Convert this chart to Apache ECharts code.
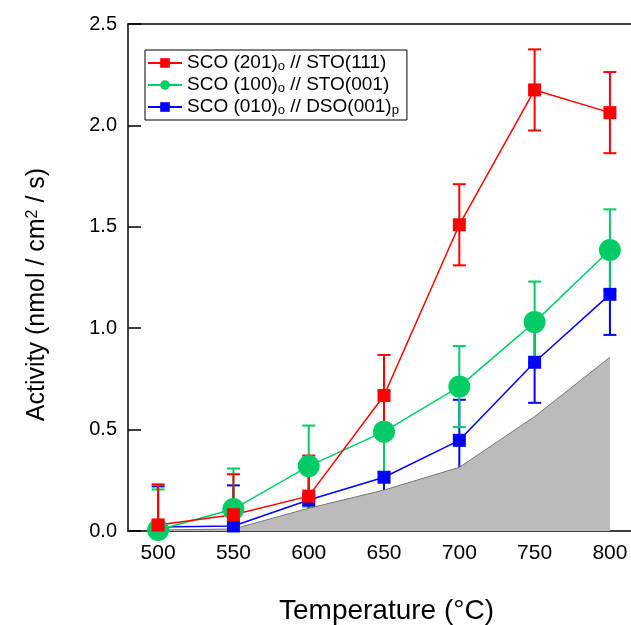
<!DOCTYPE html>
<html><head><meta charset="utf-8">
<script src="https://cdn.jsdelivr.net/npm/echarts@6/dist/echarts.min.js"></script>
<style>html,body{margin:0;padding:0;background:#fff}#c{width:631px;height:625px}</style>
</head><body><div id="c"></div>
<script>
const temperatures = [500, 550, 600, 650, 700, 750, 800];
const redValues = [0.03, 0.08, 0.172, 0.668, 1.51, 2.175, 2.063];
const redErrors = [0.2, 0.2, 0.2, 0.2, 0.2, 0.2, 0.2];
const greenValues = [0.005, 0.108, 0.32, 0.49, 0.712, 1.03, 1.386];
const greenErrors = [0.2, 0.2, 0.2, 0.2, 0.2, 0.2, 0.2];
const blueValues = [0.02, 0.025, 0.153, 0.265, 0.447, 0.832, 1.167];
const blueErrors = [0.2, 0.2, 0.2, 0.2, 0.2, 0.2, 0.2];
const backgroundValues = [0.005, 0.01, 0.112, 0.202, 0.314, 0.564, 0.857];
const xTickValues = [500, 550, 600, 650, 700, 750, 800];
const yTickValues = [0, 0.5, 1.0, 1.5, 2.0, 2.5];
const seriesNames = ['SCO (201)o // STO(111)', 'SCO (100)o // STO(001)', 'SCO (010)o // DSO(001)p'];
const legendRich = {
  'SCO (201)o // STO(111)': 'SCO (201){sub|o} // STO(111)',
  'SCO (100)o // STO(001)': 'SCO (100){sub|o} // STO(001)',
  'SCO (010)o // DSO(001)p': 'SCO (010){sub|o} // DSO(001){sub|p}'
};
const FONT = 'Liberation Sans, Arial, Helvetica, sans-serif';
const RED = '#ff0000', GREEN = '#00cc66', BLUE = '#0000ff';

function pts(vals) { return temperatures.map((t, i) => [t, vals[i]]); }
function errPts(vals, errs) { return temperatures.map((t, i) => [t, vals[i], errs[i]]); }
function errRender(color) {
  return function (params, api) {
    const x = api.value(0), y = api.value(1), e = api.value(2);
    const top = api.coord([x, y + e]);
    const bot = api.coord([x, y - e]);
    const hw = 6.5;
    const st = { stroke: color, lineWidth: 2 };
    return { type: 'group', children: [
      { type: 'line', shape: { x1: top[0], y1: top[1], x2: bot[0], y2: bot[1] }, style: st },
      { type: 'line', shape: { x1: top[0] - hw, y1: top[1], x2: top[0] + hw, y2: top[1] }, style: st },
      { type: 'line', shape: { x1: bot[0] - hw, y1: bot[1], x2: bot[0] + hw, y2: bot[1] }, style: st }
    ]};
  };
}
function errSeries(vals, errs, color) {
  return { type: 'custom', data: errPts(vals, errs), encode: { x: 0, y: 1 }, renderItem: errRender(color), clip: true, silent: true };
}
function lineSeries(name, vals, color, symbol, size) {
  return { type: 'line', name: name, data: pts(vals), symbol: symbol, symbolSize: size,
    itemStyle: { color: color }, lineStyle: { color: color, width: 1.5 }, showSymbol: true };
}

const chart = echarts.init(document.getElementById('c'), null, { renderer: 'canvas' });
chart.setOption({
  animation: false,
  backgroundColor: '#fff',
  textStyle: { fontFamily: FONT },
  grid: { left: 128, right: 0, top: 24, bottom: 94, containLabel: false, outerBoundsMode: 'none' },
  legend: {
    orient: 'vertical', left: 145, top: 50, data: seriesNames,
    backgroundColor: '#fff', borderColor: '#000', borderWidth: 1, borderRadius: 0,
    padding: [3, 8, 3, 2], itemGap: 2, itemWidth: 34, itemHeight: 12,
    formatter: n => legendRich[n],
    textStyle: { fontSize: 19, color: '#000', fontFamily: FONT, lineHeight: 20,
      rich: { sub: { fontSize: 13, fontFamily: FONT, color: '#000', verticalAlign: 'bottom', lineHeight: 13, padding: [6, 0, 0, 0] } } }
  },
  xAxis: [{
    type: 'value', min: 480, max: 814, position: 'bottom',
    name: 'Temperature (°C)', nameLocation: 'middle', nameGap: 66,
    nameTextStyle: { fontSize: 28, color: '#000', fontFamily: FONT, padding: [0, 0, 0, 14] },
    axisLine: { show: true, onZero: false, lineStyle: { color: '#000', width: 1.5 } },
    axisTick: { show: false },
    axisLabel: { customValues: xTickValues, fontSize: 21, color: '#000', margin: 12, fontFamily: FONT },
    splitLine: { show: false }
  }, {
    type: 'value', min: 480, max: 814, position: 'top',
    axisLine: { show: true, onZero: false, lineStyle: { color: '#000', width: 1.5 } },
    axisTick: { show: false }, axisLabel: { show: false }, splitLine: { show: false }
  }],
  yAxis: {
    type: 'value', min: 0, max: 2.5, interval: 0.5,
    name: 'Activity (nmol / cm{sup|2} / s)', nameLocation: 'middle', nameGap: 78,
    nameTextStyle: { fontSize: 25, color: '#000', fontFamily: FONT, padding: [0, 34, 0, 0],
      rich: { sup: { fontSize: 16, fontFamily: FONT, color: '#000', verticalAlign: 'top', lineHeight: 16, padding: [0, 0, 7, 0] } } },
    axisLine: { show: true, onZero: false, lineStyle: { color: '#000', width: 1.5 } },
    axisTick: { show: true, inside: true, length: 13, lineStyle: { color: '#000', width: 1.5 } },
    axisLabel: { fontSize: 20, color: '#000', margin: 11, fontFamily: FONT, formatter: v => v.toFixed(1) },
    splitLine: { show: false }
  },
  series: [
    { type: 'line', name: 'background', data: pts(backgroundValues), symbol: 'none', silent: true,
      lineStyle: { color: '#777777', width: 1 }, areaStyle: { color: '#bbbbbb', opacity: 1 } },
    lineSeries(seriesNames[2], blueValues, BLUE, 'rect', 13),
    errSeries(blueValues, blueErrors, BLUE),
    lineSeries(seriesNames[1], greenValues, GREEN, 'circle', 22),
    errSeries(greenValues, greenErrors, GREEN),
    lineSeries(seriesNames[0], redValues, RED, 'rect', 13),
    errSeries(redValues, redErrors, RED)
  ]
});
</script></body></html>
